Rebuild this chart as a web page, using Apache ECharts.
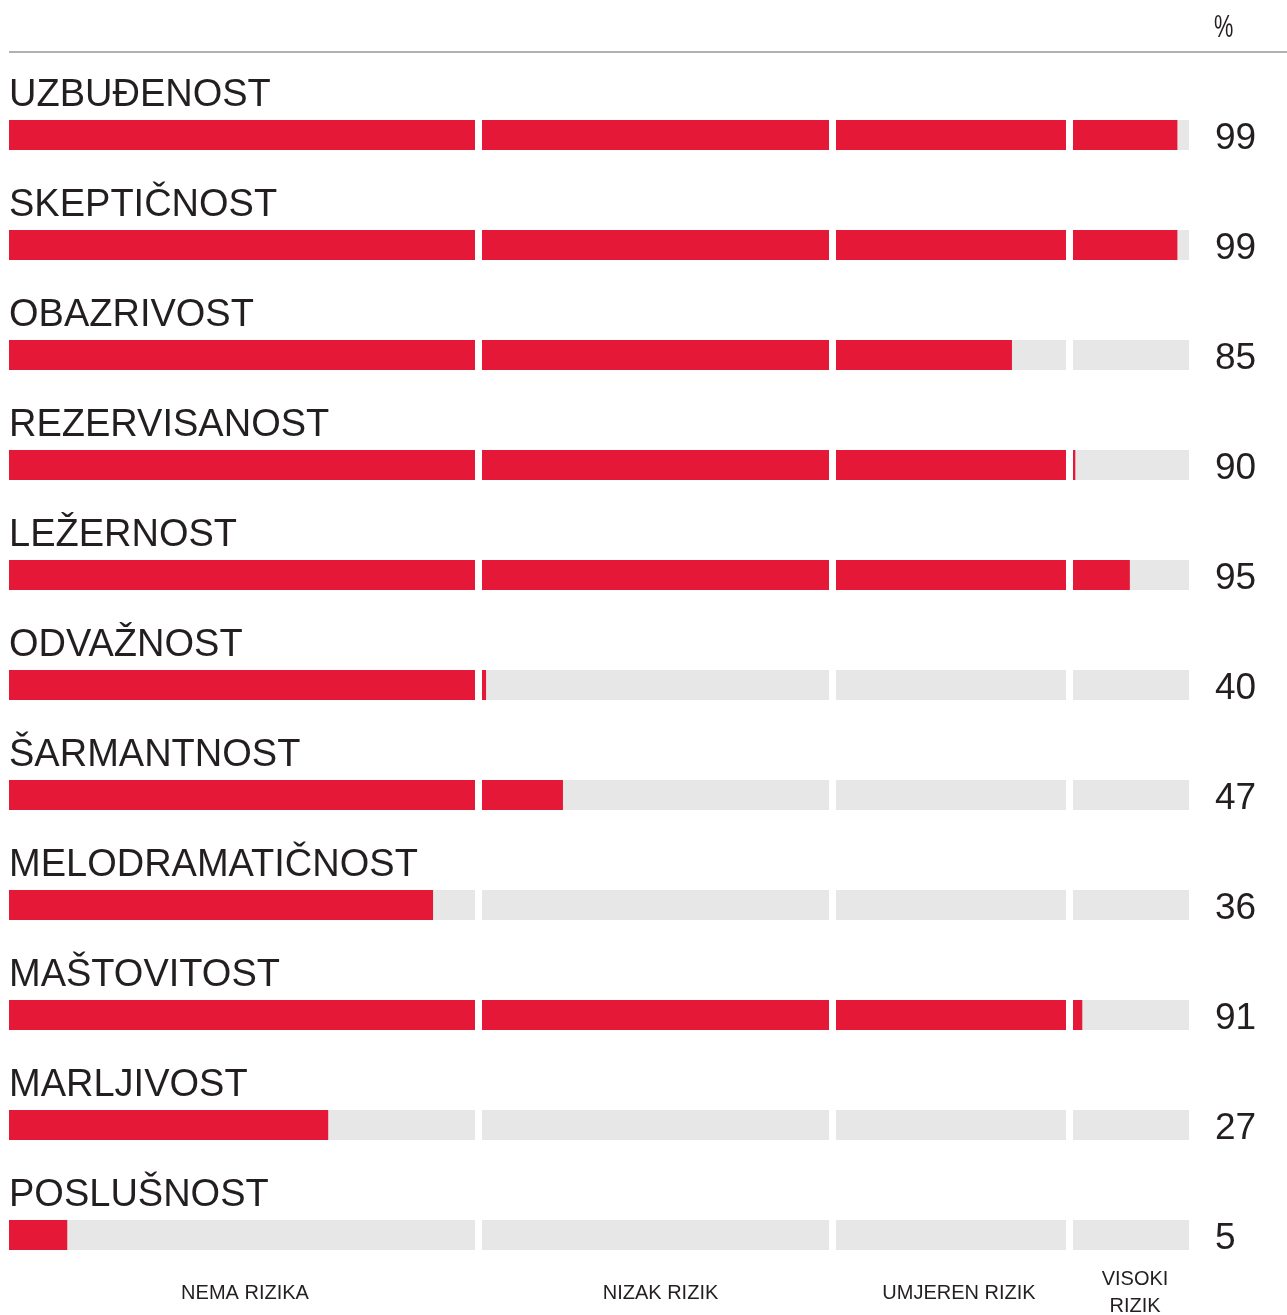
<!DOCTYPE html>
<html>
<head>
<meta charset="utf-8">
<script src="https://cdn.jsdelivr.net/npm/echarts@6/dist/echarts.min.js"></script>
<style>
  html, body { margin: 0; padding: 0; background: #ffffff; }
  #chart { width: 1287px; height: 1315px; }
</style>
</head>
<body>
<div id="chart"></div>
<script>
// ---- data ----
const categories = ['UZBUĐENOST', 'SKEPTIČNOST', 'OBAZRIVOST', 'REZERVISANOST', 'LEŽERNOST', 'ODVAŽNOST', 'ŠARMANTNOST', 'MELODRAMATIČNOST', 'MAŠTOVITOST', 'MARLJIVOST', 'POSLUŠNOST'];
const values = [99, 99, 85.3, 90.2, 94.9, 40.35, 47, 36.4, 90.8, 27.4, 5];
const zoneStarts = [0, 40, 70, 90];
const zoneEnds = [40, 70, 90, 100];
const zoneNames = ['NEMA RIZIKA', 'NIZAK RIZIK', 'UMJEREN RIZIK', 'VISOKI\nRIZIK'];
const unitLabel = '%';

// ---- styling ----
const RED = '#E61837';
const GREY = '#E7E7E7';
const TEXT = '#231F20';
const FONT = '"Liberation Sans", Arial, Helvetica, sans-serif';
const gridLefts = [9, 482, 836, 1073];
const gridWidths = [466, 347, 230, 116];
const nameShift = [3, 5, 8, 4];

const chart = echarts.init(document.getElementById('chart'), null, { renderer: 'canvas' });

const grids = [], xAxes = [], yAxes = [], series = [];
for (let k = 0; k < 4; k++) {
  grids.push({ left: gridLefts[k], width: gridWidths[k], top: 80, height: 1210, containLabel: false, outerBoundsMode: 'none' });
  xAxes.push({
    gridIndex: k, type: 'value', min: 0, max: zoneEnds[k] - zoneStarts[k],
    axisLine: { show: false }, axisTick: { show: false }, axisLabel: { show: false }, splitLine: { show: false },
    name: zoneNames[k], nameLocation: 'middle', nameGap: 3,
    nameTextStyle: { fontFamily: FONT, fontSize: 20, color: TEXT, verticalAlign: 'middle', lineHeight: 27, padding: [0, 0, 0, nameShift[k] * 2] }
  });
  yAxes.push({
    gridIndex: k, type: 'category', data: categories, inverse: true,
    position: k === 3 ? 'right' : 'left',
    axisLine: { show: false }, axisTick: { show: false }, splitLine: { show: false },
    axisLabel: k === 3 ? {
      show: true, margin: 26, fontFamily: FONT, fontSize: 37, color: TEXT, align: 'left',
      formatter: (v, i) => '{n|' + Math.round(values[i]) + '}',
      rich: { n: { fontFamily: FONT, fontSize: 37, color: TEXT, padding: [7, 0, 0, 0] } }
    } : { show: false }
  });
  series.push({
    type: 'bar', xAxisIndex: k, yAxisIndex: k,
    data: values.map(v => Math.max(0, Math.min(v, zoneEnds[k]) - zoneStarts[k])),
    barWidth: 30,
    itemStyle: { color: RED },
    showBackground: true,
    backgroundStyle: { color: GREY },
    silent: true,
    animation: false,
    label: k === 0 ? {
      show: true, position: [0, -24], formatter: '{b}', fontFamily: FONT, fontSize: 38,
      color: TEXT, align: 'left', verticalAlign: 'middle'
    } : { show: false }
  });
}

chart.setOption({
  animation: false,
  backgroundColor: '#ffffff',
  graphic: [{
    type: 'line', shape: { x1: 9, y1: 52, x2: 1287, y2: 52 },
    style: { stroke: '#B0B0B0', lineWidth: 2 }, silent: true
  }, {
    type: 'text', x: 1214, y: 12, scaleX: 0.68, silent: true,
    style: { text: unitLabel, fontFamily: FONT, fontSize: 32, fill: TEXT }
  }],
  grid: grids,
  xAxis: xAxes,
  yAxis: yAxes,
  series: series
});
</script>
</body>
</html>
